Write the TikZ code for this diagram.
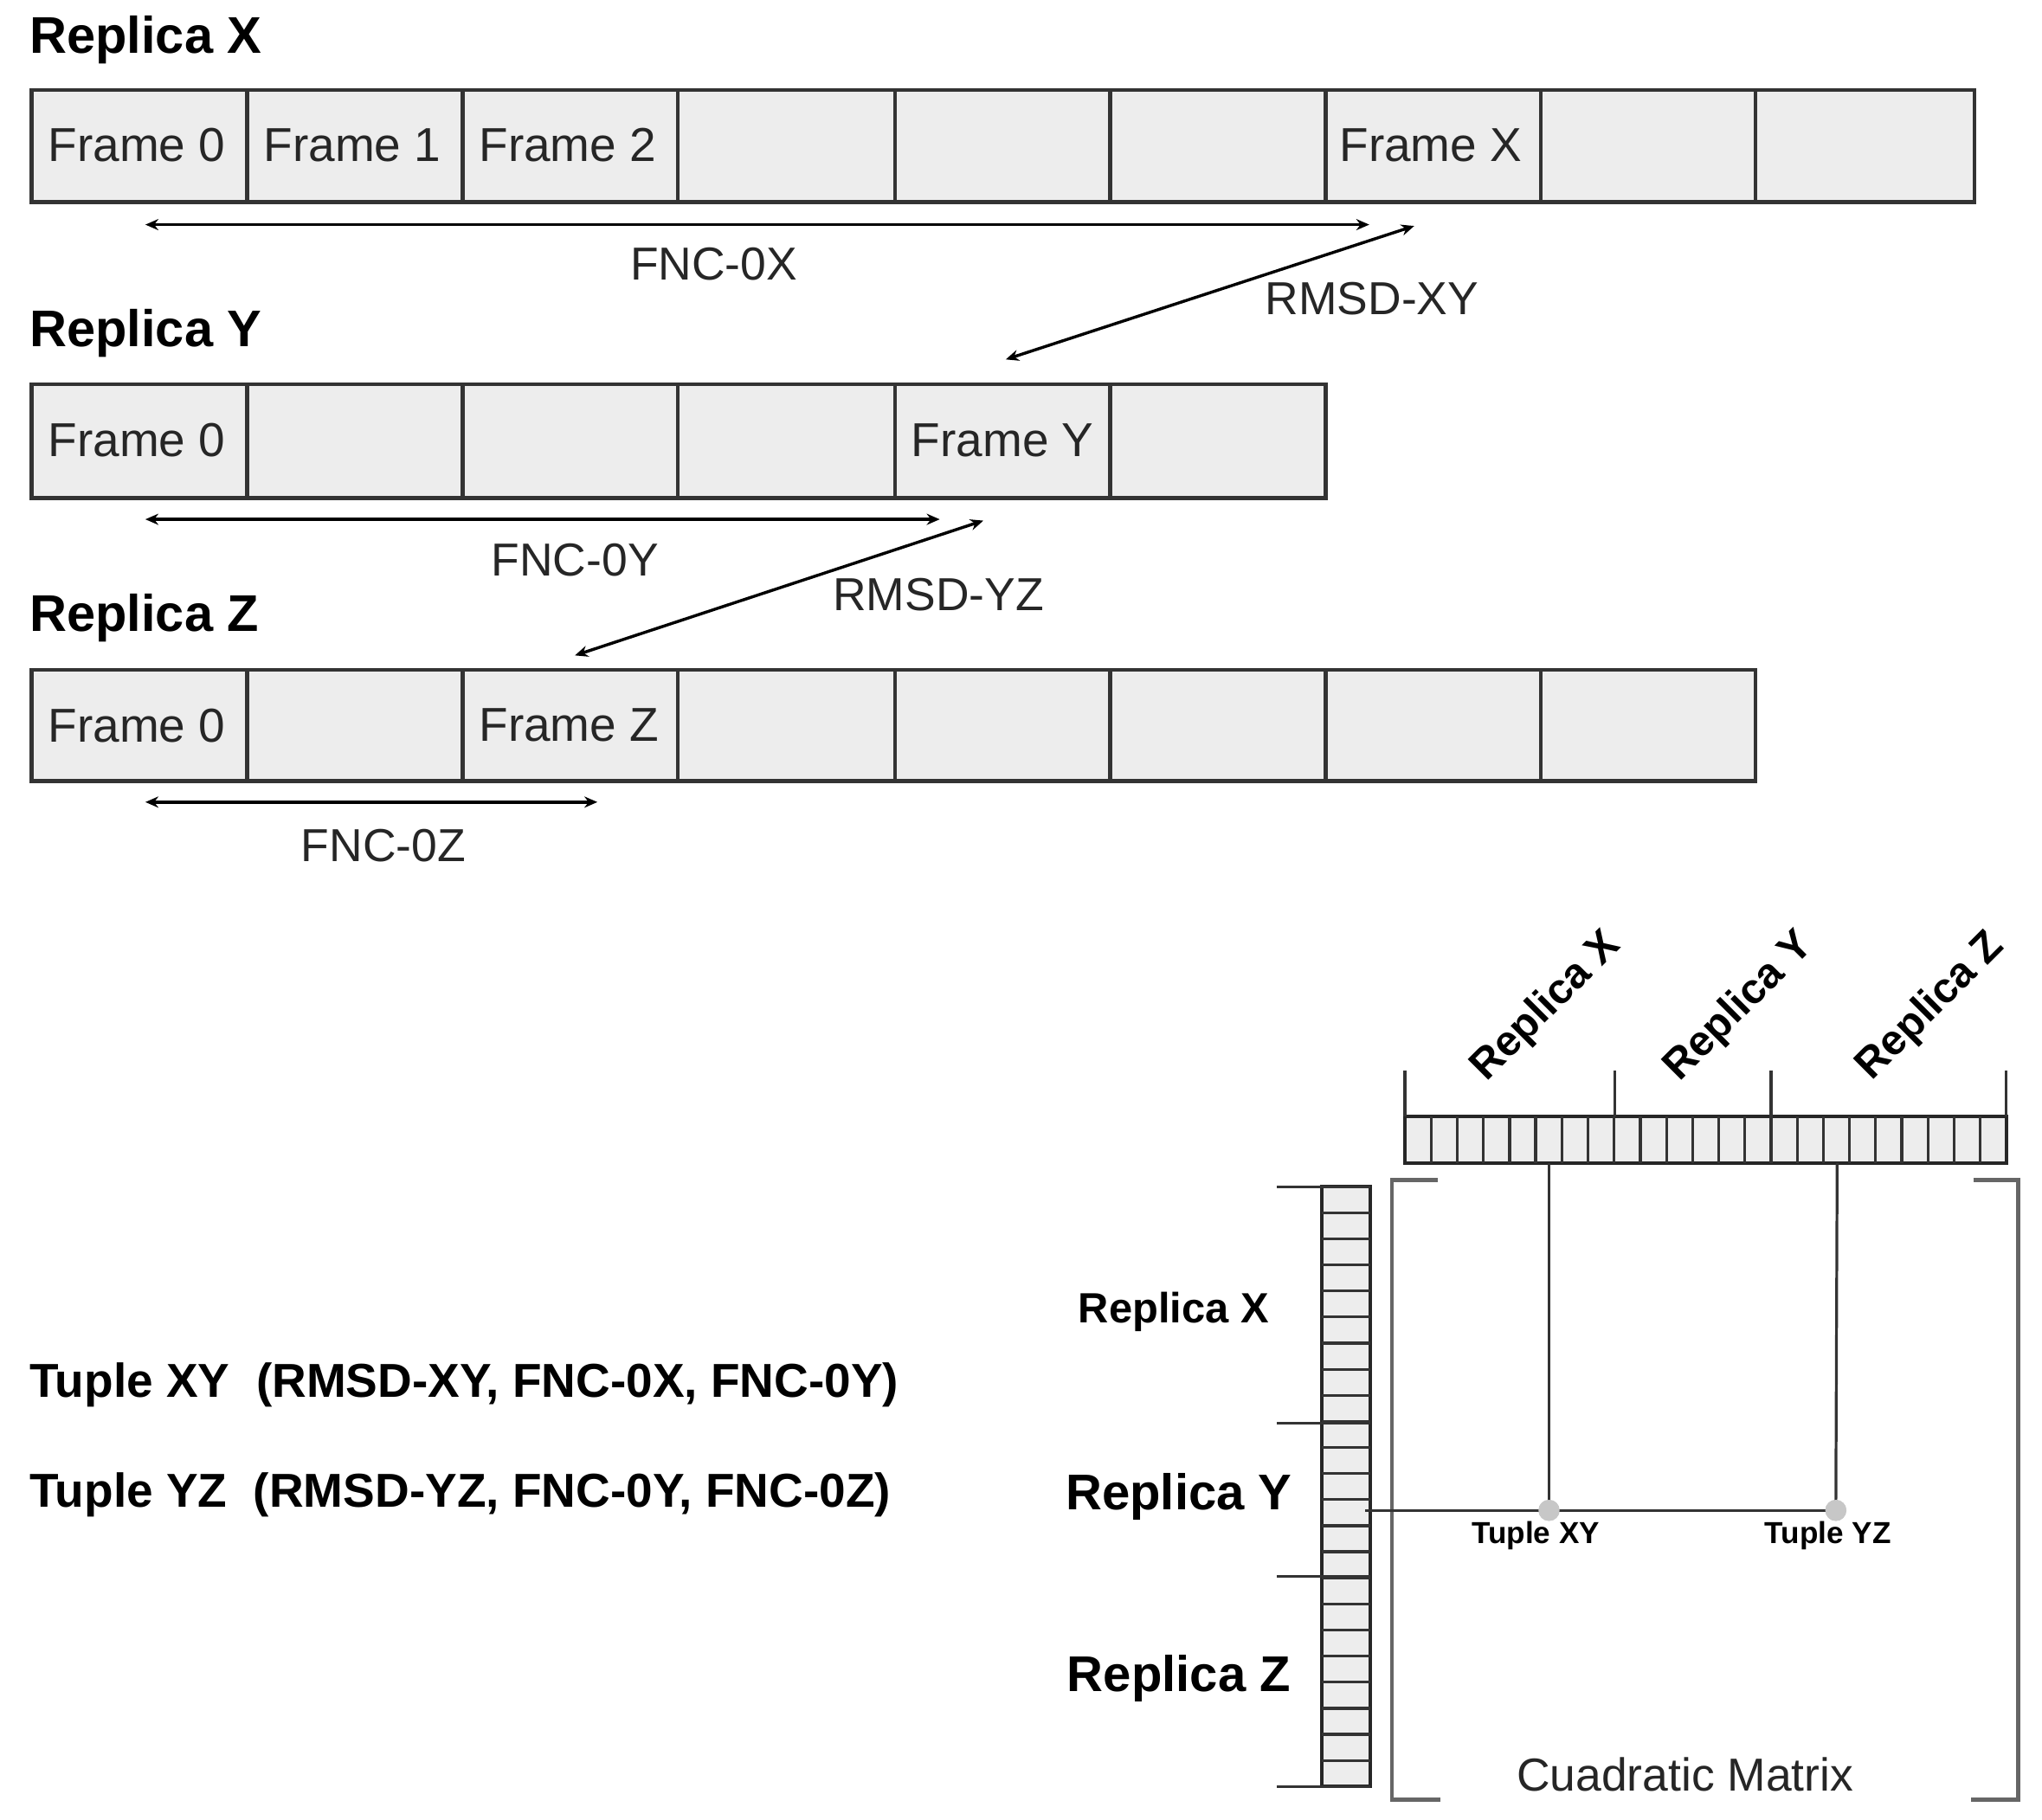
\documentclass[tikz,border=0pt]{standalone}
\usepackage{fontspec}
\setmainfont{Liberation Sans}
\usetikzlibrary{arrows.meta}
\newcommand{\pxf}[1]{\fontsize{\dimexpr #1pt*1423/1000\relax}{\dimexpr #1pt*1700/1000\relax}\selectfont}
\begin{document}
\begin{tikzpicture}[x=0.05cm,y=-0.05cm,
  cell/.style={draw=black!80,line width=4pt,fill=black!7},
  title/.style={anchor=west,font=\pxf{39}\bfseries},
  ftxt/.style={anchor=west,font=\pxf{36},text=black!85},
  lbl/.style={font=\pxf{35},text=black!85},
  dim/.style={line width=3.2pt,{Stealth[length=14pt,width=12pt]}-{Stealth[length=14pt,width=12pt]}},
  rlab/.style={font=\pxf{32}\bfseries},
  strip/.style={draw=black!85,line width=3.5pt,fill=black!7},
  gl/.style={draw=black!80,line width=3pt}]
\useasboundingbox (0,0) rectangle (1545,1377);
% Replica X
\node[title] (tx) at (20,30) {Replica X};
\foreach \i/\a/\b in {0/24/187,1/187/350,2/350/513,3/513/677,4/677/840,5/840/1003,6/1003/1166,7/1166/1328,8/1328/1494}
  \path[cell] (\a,68) rectangle (\b,153);
\node[ftxt] (fx0) at (34,110) {Frame 0};
\node[ftxt] (fx1) at (197,110) {Frame 1};
\node[ftxt] (fx2) at (360,110) {Frame 2};
\node[ftxt] (fxx) at (1011,110) {Frame X};
% Replica Y
\node[title] (ty) at (20,252) {Replica Y};
\foreach \i/\a/\b in {0/24/187,1/187/350,2/350/513,3/513/677,4/677/840,5/840/1003}
  \path[cell] (\a,291) rectangle (\b,377);
\node[ftxt] (fy0) at (34,333) {Frame 0};
\node[ftxt] (fyy) at (687,333) {Frame Y};
% Replica Z
\node[title] (tz) at (20,468) {Replica Z};
\foreach \i/\a/\b in {0/24/187,1/187/350,2/350/513,3/513/677,4/677/840,5/840/1003,6/1003/1166,7/1166/1328}
  \path[cell] (\a,507) rectangle (\b,591);
\node[ftxt] (fz0) at (34,549) {Frame 0};
\node[ftxt] (fzz) at (360,549) {Frame Z};
% arrows
\coordinate (a1) at (110,170); \coordinate (a2) at (1036,170);
\draw[dim] (a1) -- (a2);
\node[lbl] (l0x) at (540,200) {FNC-0X};
\coordinate (r1) at (1070,171); \coordinate (r2) at (761,272);
\draw[dim] (r1) -- (r2);
\node[lbl] (lxy) at (1038,226) {RMSD-XY};
\coordinate (b1) at (110,393); \coordinate (b2) at (711,393);
\draw[dim] (b1) -- (b2);
\node[lbl] (l0y) at (435,424) {FNC-0Y};
\coordinate (s1) at (744,394); \coordinate (s2) at (435,496);
\draw[dim] (s1) -- (s2);
\node[lbl] (lyz) at (710,450) {RMSD-YZ};
\coordinate (c1) at (110,607); \coordinate (c2) at (452,607);
\draw[dim] (c1) -- (c2);
\node[lbl] (l0z) at (290,640) {FNC-0Z};
% tuples
\node[anchor=west,font=\pxf{36}\bfseries] (t1) at (20,1048) {Tuple XY\ \ (RMSD-XY, FNC-0X, FNC-0Y)};
\node[anchor=west,font=\pxf{36}\bfseries] (t2) at (20,1131) {Tuple YZ\ \ (RMSD-YZ, FNC-0Y, FNC-0Z)};
% left replica labels
\node[rlab] (lx) at (888,993) {Replica X};
\node[font=\pxf{38}\bfseries] (ly) at (892,1133) {Replica Y};
\node[font=\pxf{38}\bfseries] (lz) at (892,1270) {Replica Z};
% vertical strip
\path[strip] (1000,898) rectangle (1037,1352);
\foreach \k in {1,...,22} \draw[gl] (1000,{898+\k*454/23}) -- (1037,{898+\k*454/23});
\foreach \yy in {898,1077,1193,1352} \draw[gl] (966,\yy) -- (1037,\yy);
% top strip
\path[strip] (1063,845) rectangle (1518,880);
\foreach \k in {1,...,22} \draw[gl] ({1063+\k*455/23},845) -- ({1063+\k*455/23},880);
\foreach \xx in {1063,1222,1340,1518} \draw[gl] (\xx,810) -- (\xx,845);
\node[rlab,rotate=45] (rx) at (1170,762) {Replica X};
\node[rlab,rotate=45] (ry) at (1316,762) {Replica Y};
\node[rlab,rotate=45] (rz) at (1461,762) {Replica Z};
% brackets
\draw[black!60,line width=4pt] (1088,893) -- (1053,893) -- (1053,1362) -- (1090,1362);
\draw[black!60,line width=4pt] (1493,893) -- (1527,893) -- (1527,1362) -- (1491,1362);
% tuple lines
\coordinate (vx) at (1172,880); \coordinate (vz) at (1390,880);
\coordinate (hy) at (1033,1143);
\node[circle,fill=black!22,inner sep=0,minimum size=0.8cm] (dxy) at (1172,1143) {};
\node[circle,fill=black!22,inner sep=0,minimum size=0.8cm] (dyz) at (1389,1143) {};
\draw[gl] (vx) -- (dxy.center);
\draw[gl] (vz) -- (dyz.center);
\draw[gl] (hy) -- (dyz.center);
\node[circle,fill=black!22,inner sep=0,minimum size=0.8cm] at (1172,1143) {};
\node[circle,fill=black!22,inner sep=0,minimum size=0.8cm] at (1389,1143) {};
\node[font=\pxf{23}\bfseries] (txy) at (1162,1162) {Tuple XY};
\node[font=\pxf{23}\bfseries] (tyz) at (1383,1162) {Tuple YZ};
\node[lbl] (cm) at (1275,1343) {Cuadratic Matrix};
\end{tikzpicture}
\end{document}
